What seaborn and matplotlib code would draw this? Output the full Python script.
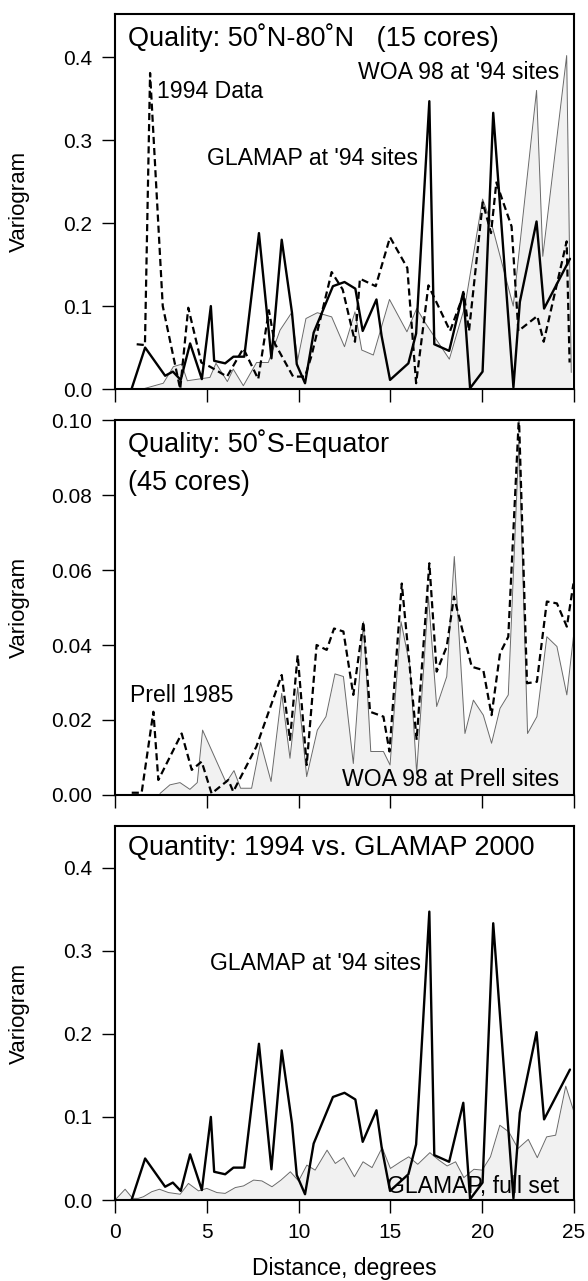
import numpy as np
import pandas as pd
import matplotlib
matplotlib.use("Agg")
import matplotlib.pyplot as plt
import seaborn as sns

# GLAMAP at '94 sites (panels 1 and 3)
glamap94_x = [0.9, 1.64, 2.73, 3.15, 3.58, 4.09, 4.73, 5.22, 5.40, 6.00, 6.45, 7.04, 7.84, 8.52,
              9.08, 9.64, 9.9, 10.35, 10.82, 11.87, 12.5, 13.09, 13.49, 14.24, 14.52, 14.98,
              15.98, 16.4, 17.12, 17.39, 18.2, 18.97, 19.34, 20.02, 20.6, 21.7, 22.05, 22.96,
              23.37, 24.78]
glamap94_y = [0.0, 0.050, 0.016, 0.021, 0.011, 0.055, 0.012, 0.100, 0.034, 0.031, 0.039, 0.039,
              0.188, 0.037, 0.180, 0.092, 0.030, 0.007, 0.068, 0.124, 0.129, 0.121, 0.070, 0.108,
              0.064, 0.011, 0.031, 0.067, 0.347, 0.054, 0.046, 0.117, 0.001, 0.021, 0.333, 0.002,
              0.105, 0.202, 0.097, 0.157]

# 1994 Data (panel 1, dashed)
data94_x = [1.18, 1.63, 1.91, 2.6, 3.55, 3.99, 4.7, 5.17, 6.1, 6.99, 7.8, 8.38, 8.7, 9.7, 10.35,
            10.7, 11.8, 12.4, 13.07, 13.34, 14.2, 14.98, 15.92, 16.4, 17.07, 18.25, 19.0, 19.28,
            20.03, 20.48, 20.77, 21.6, 21.97, 23.0, 23.35, 24.6, 24.76]
data94_y = [0.054, 0.053, 0.381, 0.100, 0.0, 0.098, 0.032, 0.027, 0.015, 0.049, 0.012, 0.095,
            0.055, 0.015, 0.015, 0.040, 0.141, 0.120, 0.057, 0.133, 0.124, 0.183, 0.146, 0.007,
            0.125, 0.070, 0.115, 0.070, 0.225, 0.188, 0.249, 0.196, 0.070, 0.088, 0.057, 0.178,
            0.032]

# WOA 98 at '94 sites (panel 1, grey fill)
woa94_x = [1.5, 2.63, 3.18, 3.63, 3.94, 5.17, 5.5, 6.12, 6.44, 6.99, 7.71, 8.35, 8.99, 9.62, 9.95,
           10.4, 11.02, 11.8, 12.5, 13.07, 13.44, 14.07, 14.95, 15.9, 16.43, 16.95, 18.21, 19.06,
           20.02, 20.5, 21.69, 22.96, 23.3, 24.6, 24.85]
woa94_y = [0.0, 0.007, 0.027, 0.030, 0.010, 0.014, 0.031, 0.009, 0.024, 0.004, 0.032, 0.032,
           0.071, 0.092, 0.035, 0.085, 0.092, 0.087, 0.051, 0.093, 0.047, 0.041, 0.108, 0.069,
           0.097, 0.078, 0.036, 0.100, 0.229, 0.200, 0.100, 0.360, 0.160, 0.402, 0.020]

# Prell 1985 (panel 2, dashed)
prell_x = [0.91, 1.45, 2.09, 2.36, 3.63, 4.18, 4.72, 5.26, 6.17, 6.44, 7.7, 9.08, 9.53, 9.95,
           10.44, 10.98, 11.53, 11.93, 12.44, 12.98, 13.53, 13.89, 14.62, 14.95, 15.62, 16.43,
           17.12, 17.52, 18.07, 18.46, 19.43, 20.06, 20.51, 20.97, 21.42, 22.0, 22.44, 22.98,
           23.52, 24.07, 24.61, 24.97]
prell_y = [0.0006, 0.0006, 0.0222, 0.0040, 0.0164, 0.0067, 0.0089, 0.0004, 0.0040, 0.0009, 0.0129,
           0.0320, 0.0147, 0.0373, 0.0080, 0.0400, 0.0387, 0.0444, 0.0436, 0.0267, 0.0462, 0.0222,
           0.0209, 0.0116, 0.0564, 0.0147, 0.0618, 0.0329, 0.0396, 0.0529, 0.0342, 0.0333, 0.0213,
           0.0378, 0.0422, 0.1010, 0.0298, 0.0302, 0.0516, 0.0511, 0.0449, 0.0564]

# WOA 98 at Prell sites (panel 2, grey fill)
woaprell_x = [2.45, 2.99, 3.54, 4.08, 4.48, 4.77, 6.05, 6.48, 6.84, 7.44, 7.93, 8.5, 9.08, 9.53,
              9.95, 10.44, 11.02, 11.49, 11.98, 12.44, 12.98, 13.53, 13.93, 14.62, 14.98, 15.58,
              16.07, 16.43, 17.07, 17.52, 18.07, 18.48, 19.06, 19.52, 20.06, 20.51, 20.97, 21.42,
              22.0, 22.47, 22.98, 23.52, 24.07, 24.61, 24.97]
woaprell_y = [0.0004, 0.0027, 0.0033, 0.0015, 0.0033, 0.0173, 0.0033, 0.0065, 0.0018, 0.0018,
              0.0140, 0.0036, 0.0271, 0.0098, 0.0287, 0.0049, 0.0173, 0.0209, 0.0323, 0.0316,
              0.0084, 0.0462, 0.0116, 0.0116, 0.0080, 0.0462, 0.0342, 0.0058, 0.0529, 0.0236,
              0.0316, 0.0636, 0.0164, 0.0253, 0.0213, 0.0138, 0.0231, 0.0267, 0.0940, 0.0164,
              0.0209, 0.0422, 0.0396, 0.0267, 0.0422]

# GLAMAP, full set (panel 3, grey fill)
full_x = [0.0, 0.55, 0.96, 1.27, 1.55, 2.0, 2.42, 2.91, 3.55, 4.0, 4.55, 5.0, 5.55, 6.0, 6.55, 7.0,
          7.55, 8.0, 8.55, 9.04, 9.55, 10.0, 10.45, 10.9, 11.55, 12.0, 12.45, 13.04, 13.51, 14.0,
          14.55, 15.0, 15.55, 16.0, 16.49, 17.15, 17.64, 18.09, 18.55, 19.0, 19.55, 20.0, 20.45,
          20.96, 21.45, 21.95, 22.51, 23.0, 23.51, 24.0, 24.55, 25.0]
full_y = [0.0, 0.013, 0.002, 0.002, 0.004, 0.010, 0.013, 0.009, 0.007, 0.020, 0.011, 0.014, 0.009,
          0.008, 0.015, 0.017, 0.024, 0.023, 0.016, 0.024, 0.034, 0.023, 0.042, 0.036, 0.060, 0.044,
          0.051, 0.028, 0.046, 0.039, 0.063, 0.038, 0.046, 0.052, 0.043, 0.057, 0.048, 0.041, 0.046,
          0.027, 0.037, 0.036, 0.052, 0.090, 0.082, 0.062, 0.073, 0.051, 0.076, 0.078, 0.137, 0.106]

x_ticks = [0, 5, 10, 15, 20, 25]

sns.set_theme(style="ticks")
plt.rcParams["font.family"] = ["Liberation Sans", "DejaVu Sans"]
plt.rcParams["text.color"] = "black"
plt.rcParams["axes.labelcolor"] = "black"

fill_col = "#f1f1f1"
grey_col = "#6a6a6a"
dash = (0, (3.2, 1.8))
title_fs = 19.5
note_fs = 16.6


def grey_fill(ax, x, y):
    ax.fill_between(x, 0, y, color=fill_col, lw=0, zorder=1)
    sns.lineplot(x=x, y=y, ax=ax, color=grey_col, lw=0.7, estimator=None, zorder=2)


def black_line(ax, x, y):
    sns.lineplot(x=x, y=y, ax=ax, color="black", lw=1.7, estimator=None, zorder=4)


def dashed_line(ax, x, y):
    sns.lineplot(x=x, y=y, ax=ax, color="black", lw=1.6, estimator=None, zorder=3,
                 linestyle=dash)


def style(ax, ymax, yticks, fmt, bottom=False):
    ax.set_xlim(0, 25)
    ax.set_ylim(0, ymax)
    ax.set_xticks(x_ticks)
    ax.set_yticks(yticks)
    ax.set_yticklabels([fmt.format(v) for v in yticks])
    ax.tick_params(direction="out", length=9.5, width=1.0, pad=7, labelsize=15,
                   color="black", labelcolor="black")
    if not bottom:
        ax.set_xticklabels([])
    for s in ax.spines.values():
        s.set_visible(True)
        s.set_linewidth(1.5)
        s.set_color("black")
        s.set_zorder(6)
    ax.set_ylabel("Variogram", fontsize=16)
    ax.yaxis.set_label_coords(-0.185, 0.5)
    ax.set_xlabel("")


fig = plt.figure(figsize=(5.88, 12.81), dpi=100)
ax1 = fig.add_axes([0.1956, 0.6963, 0.7806, 0.2927])
ax2 = fig.add_axes([0.1956, 0.3794, 0.7806, 0.2927])
ax3 = fig.add_axes([0.1956, 0.0632, 0.7806, 0.2920])

# panel 1
grey_fill(ax1, woa94_x, woa94_y)
dashed_line(ax1, data94_x, data94_y)
black_line(ax1, glamap94_x, glamap94_y)
style(ax1, 0.452, [0.0, 0.1, 0.2, 0.3, 0.4], "{:.1f}")
ax1.text(0.028, 0.937, "Quality: 50˚N-80˚N   (15 cores)", transform=ax1.transAxes,
         fontsize=title_fs, va="center", ha="left")
ax1.text(2.3, 0.359, "1994 Data", fontsize=note_fs, va="center", ha="left")
ax1.text(5.0, 0.278, "GLAMAP at '94 sites", fontsize=note_fs, va="center", ha="left")
ax1.text(24.2, 0.381, "WOA 98 at '94 sites", fontsize=note_fs, va="center", ha="right")

# panel 2
grey_fill(ax2, woaprell_x, woaprell_y)
dashed_line(ax2, prell_x, prell_y)
style(ax2, 0.10, [0.0, 0.02, 0.04, 0.06, 0.08, 0.10], "{:.2f}")
ax2.text(0.028, 0.936, "Quality: 50˚S-Equator", transform=ax2.transAxes,
         fontsize=title_fs, va="center", ha="left")
ax2.text(0.028, 0.833, "(45 cores)", transform=ax2.transAxes,
         fontsize=title_fs, va="center", ha="left")
ax2.text(0.82, 0.0265, "Prell 1985", fontsize=note_fs, va="center", ha="left")
ax2.text(24.2, 0.004, "WOA 98 at Prell sites", fontsize=note_fs, va="center", ha="right")

# panel 3
grey_fill(ax3, full_x, full_y)
black_line(ax3, glamap94_x, glamap94_y)
style(ax3, 0.45, [0.0, 0.1, 0.2, 0.3, 0.4], "{:.1f}", bottom=True)
ax3.set_xlabel("Distance, degrees", fontsize=16.5)
ax3.xaxis.set_label_coords(0.5, -0.152)
ax3.text(0.028, 0.941, "Quantity: 1994 vs. GLAMAP 2000", transform=ax3.transAxes,
         fontsize=title_fs, va="center", ha="left")
ax3.text(5.17, 0.284, "GLAMAP at '94 sites", fontsize=note_fs, va="center", ha="left")
ax3.text(24.2, 0.016, "GLAMAP, full set", fontsize=note_fs, va="center", ha="right")

for ax in (ax1, ax2, ax3):
    ax.set_facecolor("white")

fig.savefig("out.png", dpi=100, facecolor="white")
